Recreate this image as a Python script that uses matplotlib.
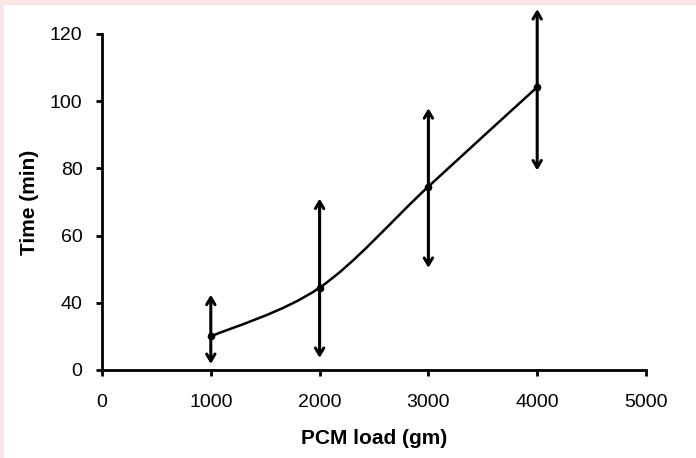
import matplotlib
matplotlib.use("Agg")
import matplotlib.pyplot as plt
from matplotlib.path import Path
from matplotlib.patches import PathPatch, Rectangle
import numpy as np

plt.rcParams['font.family'] = ['Liberation Sans', 'DejaVu Sans']

# data (y in axis units; bottom tick is labelled "0")
pcm_load = [1000, 2000, 3000, 4000]
time_min = [30, 44.5, 74.6, 104.2]
err_up = [12.4, 26.5, 23.3, 23.2]
err_down = [8.2, 20.9, 24.2, 24.8]

x_ticks = [0, 1000, 2000, 3000, 4000, 5000]
y_ticks = [20, 40, 60, 80, 100, 120]
y_tick_labels = ['0', '40', '60', '80', '100', '120']

fig = plt.figure(figsize=(6.96, 4.58), dpi=100, facecolor='#fde4e6')
# white panel inside the pink frame
panel = Rectangle((4 / 696, 0), 1, 1 - 5 / 458, transform=fig.transFigure,
                  facecolor='white', edgecolor='none', zorder=-10)
fig.add_artist(panel)

ax = fig.add_axes([102 / 696, 1 - 370 / 458, 544 / 696, 336 / 458])
ax.set_zorder(5)
ax.set_facecolor('none')

# smooth line (excel-like bezier through the points)
xs = np.array(pcm_load, dtype=float)
ys = np.array(time_min, dtype=float)
verts = [(xs[0], ys[0])]
codes = [Path.MOVETO]
n = len(xs)
for i in range(n - 1):
    p0 = (xs[max(i - 1, 0)], ys[max(i - 1, 0)])
    p1 = (xs[i], ys[i])
    p2 = (xs[i + 1], ys[i + 1])
    p3 = (xs[min(i + 2, n - 1)], ys[min(i + 2, n - 1)])
    c1 = (p1[0] + (p2[0] - p0[0]) / 6, p1[1] + (p2[1] - p0[1]) / 6)
    c2 = (p2[0] - (p3[0] - p1[0]) / 6, p2[1] - (p3[1] - p1[1]) / 6)
    verts += [c1, c2, p2]
    codes += [Path.CURVE4] * 3
ax.add_patch(PathPatch(Path(verts, codes), facecolor='none', edgecolor='black', lw=1.8, zorder=3))
ax.plot(pcm_load, time_min, 'o', color='black', ms=4.5, zorder=4)

# double-headed error arrows
for x, y, up, dn in zip(pcm_load, time_min, err_up, err_down):
    for end in (y + up, y - dn):
        ax.annotate('', xy=(x, end), xytext=(x, y), annotation_clip=False,
                    arrowprops=dict(arrowstyle='->,head_length=0.5,head_width=0.3',
                                    color='black', lw=2.2, shrinkA=0, shrinkB=0))

ax.set_xlim(0, 5000)
ax.set_ylim(20, 120)
ax.set_xticks(x_ticks)
ax.set_yticks(y_ticks)
ax.set_yticklabels(y_tick_labels)

for s in ['top', 'right']:
    ax.spines[s].set_visible(False)
for s in ['left', 'bottom']:
    ax.spines[s].set_linewidth(2.0)
ax.tick_params(direction='out', length=4, width=2.0, labelsize=14)
ax.tick_params(axis='x', pad=13)
ax.tick_params(axis='y', pad=10)

ax.set_xlabel('PCM load (gm)', fontsize=15, fontweight='bold', labelpad=13)
ax.set_ylabel('Time (min)', fontsize=15, fontweight='bold', labelpad=8)

fig.savefig('out.png', dpi=100, facecolor=fig.get_facecolor())
